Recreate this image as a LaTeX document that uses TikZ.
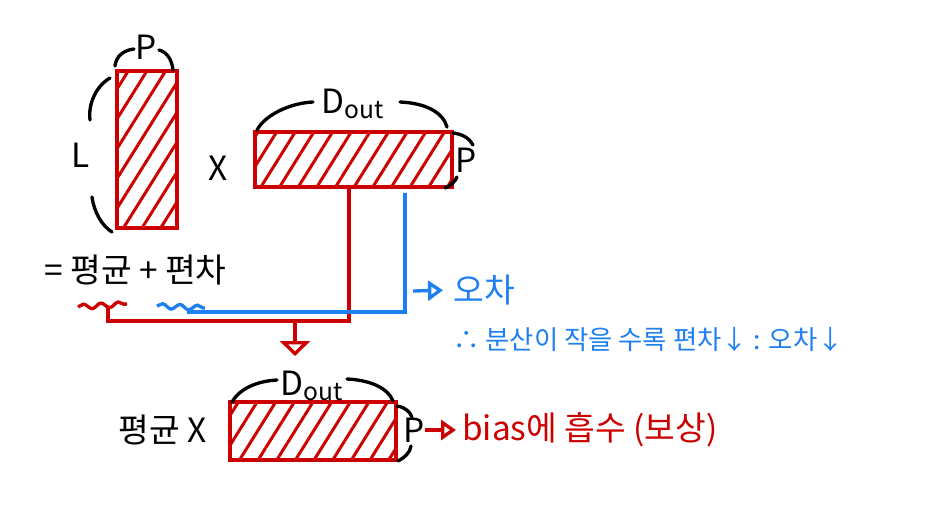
\documentclass[tikz,border=0pt]{standalone}
\usepackage{fontspec}
\setmainfont{Noto Sans CJK KR}
\usetikzlibrary{arrows.meta,patterns.meta,decorations.pathmorphing}
\definecolor{penred}{RGB}{204,0,0}
\definecolor{penblue}{RGB}{30,128,240}
\begin{document}
\begin{tikzpicture}[x=0.02cm,y=-0.02cm,
    mat/.style={draw=penred,line width=1.9pt,inner sep=0pt,
      pattern={Lines[angle=58,distance=9pt,line width=1.7pt]},pattern color=penred},
    brace/.style={black,line width=1.9pt,line cap=round},
    lbl/.style={inner sep=0pt,font=\fontsize{19}{22}\selectfont},
    note/.style={inner sep=0pt,anchor=west,font=\fontsize{15}{18}\selectfont},
    redline/.style={penred,line width=1.9pt},
    blueline/.style={penblue,line width=1.9pt},
    wave/.style={decorate,decoration={snake,amplitude=0.05cm,segment length=0.35cm}}]
    \useasboundingbox (0,0) rectangle (932,515);

    % matrices
    \node[mat,minimum width=1.2cm,minimum height=3.14cm] (colL) at (147,149.5) {};
    \node[mat,minimum width=3.94cm,minimum height=1.1cm] (rowW) at (353.5,159.5) {};
    \node[mat,minimum width=3.32cm,minimum height=1.16cm] (outW) at (313,431) {};

    % sizes
    \node[lbl] (pTop)   at (146,47)  {P};
    \node[lbl] (lLeft)  at (81,155)  {L};
    \node[lbl] (times)  at (218,168) {X};
    \node[lbl] (dTop)   at (353,104) {D\raisebox{-0.25ex}{\fontsize{14}{16}\selectfont out}};
    \node[lbl] (pRight) at (466,160) {P};
    \node[lbl] (dBot)   at (312,386) {D\raisebox{-0.25ex}{\fontsize{14}{16}\selectfont out}};
    \node[lbl] (pBot)   at (414,430) {P};

    \draw[brace] (115,66) .. controls (116,56) and (124,50) .. (134,49);
    \draw[brace] (159,50) .. controls (167,52) and (172,60) .. (173,70);
    \draw[brace] (110,78) .. controls (96,86) and (88,104) .. (90,120);
    \draw[brace] (92,197) .. controls (94,212) and (102,226) .. (112,232);
    \draw[brace] (257,130) .. controls (265,115) and (290,103) .. (313,102);
    \draw[brace] (400,102) .. controls (425,103) and (443,112) .. (447,127);
    \draw[brace] (453,133) .. controls (463,134) and (470,139) .. (473,145);
    \draw[brace] (457,177) .. controls (455,182) and (450,186) .. (445,188);
    \draw[brace] (232,402) .. controls (240,388) and (258,381) .. (277,380);
    \draw[brace] (347,379) .. controls (370,380) and (388,388) .. (393,401);
    \draw[brace] (397,406) .. controls (405,407) and (410,412) .. (412,417);
    \draw[brace] (411,446) .. controls (410,453) and (404,458) .. (398,461);

    % texts
    \node[lbl,anchor=west] (sum)  at (44,270)  {= 평균 + 편차};
    \node[lbl,anchor=west] (avgX) at (118,430) {평균 X};
    \node[lbl,anchor=west,text=penblue] (err) at (453,290) {오차};
    \node[note,text=penblue] (less) at (453,340) {∴ 분산이 작을 수록 편차↓ : 오차↓};
    \node[lbl,anchor=west,text=penred] (bias) at (462,430) {bias에 흡수 (보상)};

    % connectors
    \coordinate (avgMark)   at (108,307);
    \coordinate (redCorner) at (108,321);
    \coordinate (devMark)   at (187,312);
    \coordinate (sumFrom)   at (295,321);
    \coordinate (sumTo)     at (295,356);
    \coordinate (errFrom)   at (413,291);
    \coordinate (biasFrom)  at (425,430);

    \draw[redline,wave] (78,307) -- (127,304);
    \draw[blueline,wave] (157,306) -- (205,308);
    \draw[redline] ([xshift=-0.09cm]rowW.south) |- (redCorner) -- (avgMark);
    \draw[blueline] ([xshift=1.03cm,yshift=-0.08cm]rowW.south) |- (devMark);
    \draw[redline,-{Triangle[open,length=0.3cm,width=0.6cm]}] (sumFrom) -- (sumTo);
    \draw[blueline,shorten >=0.2cm,-{Triangle[open,length=0.3cm,width=0.4cm]}] (errFrom) -- (err.west);
    \draw[redline,shorten >=0.12cm,-{Triangle[open,length=0.3cm,width=0.4cm]}] (biasFrom) -- (bias.west);
\end{tikzpicture}
\end{document}
